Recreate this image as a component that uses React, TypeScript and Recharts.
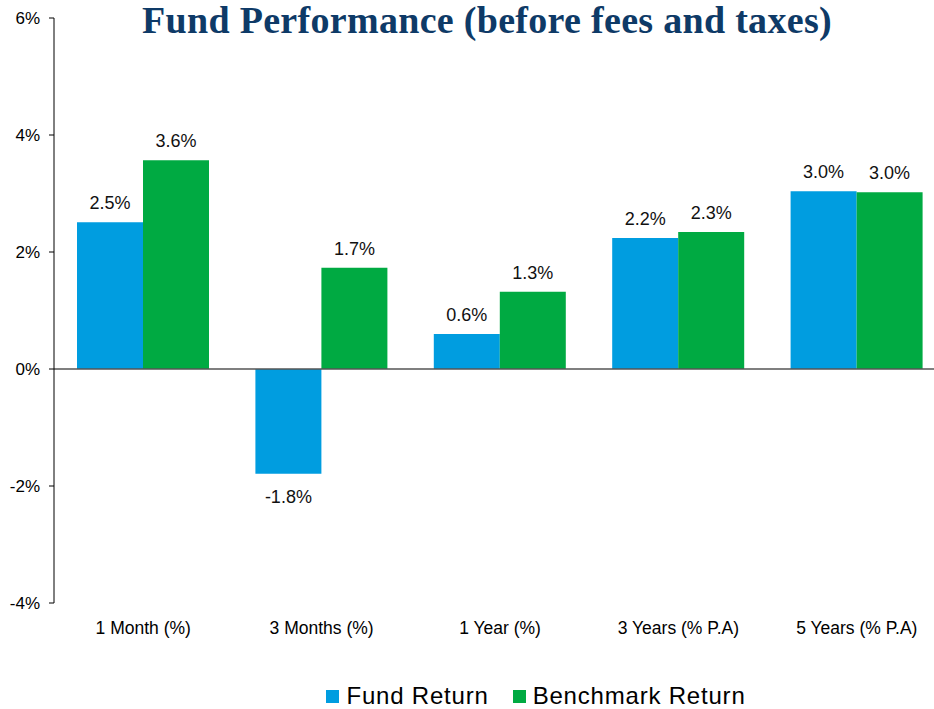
import { BarChart, Bar, XAxis, YAxis, ReferenceLine, LabelList } from "recharts";

const categories = ["1 Month (%)", "3 Months (%)", "1 Year (%)", "3 Years (% P.A)", "5 Years (% P.A)"];
const fundReturn = [2.51, -1.79, 0.6, 2.24, 3.04];
const benchmarkReturn = [3.57, 1.73, 1.32, 2.34, 3.02];
const yTicks = [-4, -2, 0, 2, 4, 6];

const FUND = "#009de0";
const BENCH = "#00aa42";

const data = categories.map((name, i) => ({
  name,
  fund: fundReturn[i],
  bench: benchmarkReturn[i],
}));

const renderValue = (props: any) => {
  const { x, y, width, height, value } = props;
  const top = Math.min(y, y + height);
  const bottom = Math.max(y, y + height);
  const cx = x + width / 2;
  const ty = value >= 0 ? top - 19 : bottom + 23;
  return (
    <text x={cx} y={ty} textAnchor="middle" dominantBaseline="central" fontSize={18} fill="#111">
      {`${Number(value).toFixed(1)}%`}
    </text>
  );
};

export default function App() {
  return (
    <div
      style={{
        position: "absolute",
        left: 0,
        top: 0,
        width: 934,
        height: 709,
        overflow: "hidden",
        background: "#fff",
        fontFamily: "'Liberation Sans', Arial, sans-serif",
      }}
    >
      <BarChart
        width={946}
        height={709}
        data={data}
        margin={{ top: 18, right: 0, left: 0, bottom: 66 }}
        barCategoryGap={23}
        barGap={0}
      >
        <XAxis
          dataKey="name"
          axisLine={false}
          tickLine={false}
          height={40}
          tickMargin={13}
          interval={0}
          tick={{ fontSize: 17.5, fill: "#000" }}
        />
        <YAxis
          domain={[-4, 6]}
          ticks={yTicks}
          width={54}
          tickFormatter={(v: number) => `${v}%`}
          axisLine={{ stroke: "#000" }}
          tickLine={{ stroke: "#000" }}
          tickSize={5}
          tickMargin={9}
          tick={{ fontSize: 17, fill: "#000" }}
        />
        <ReferenceLine y={0} stroke="#555" strokeWidth={1.5} />
        <Bar dataKey="fund" fill={FUND} isAnimationActive={false}>
          <LabelList dataKey="fund" content={renderValue} />
        </Bar>
        <Bar dataKey="bench" fill={BENCH} isAnimationActive={false}>
          <LabelList dataKey="bench" content={renderValue} />
        </Bar>
      </BarChart>

      <div
        style={{
          position: "absolute",
          top: 0,
          left: 40,
          width: 894,
          textAlign: "center",
          fontFamily: "'Liberation Serif', 'DejaVu Serif', serif",
          fontWeight: "bold",
          fontSize: 38,
          lineHeight: "40px",
          letterSpacing: 0.3,
          color: "#0e3a67",
          whiteSpace: "nowrap",
        }}
      >
        Fund Performance (before fees and taxes)
      </div>

      <div
        style={{
          position: "absolute",
          top: 684,
          left: 0,
          width: 1072,
          height: 24,
          lineHeight: "24px",
          display: "flex",
          justifyContent: "center",
          alignItems: "center",
          fontSize: 24,
          letterSpacing: 0.8,
          color: "#000",
          whiteSpace: "nowrap",
        }}
      >
        <span style={{ display: "inline-block", width: 13, height: 13, background: FUND, marginRight: 7 }} />
        <span style={{ marginRight: 24 }}>Fund Return</span>
        <span style={{ display: "inline-block", width: 13, height: 13, background: BENCH, marginRight: 7 }} />
        <span>Benchmark Return</span>
      </div>
    </div>
  );
}
